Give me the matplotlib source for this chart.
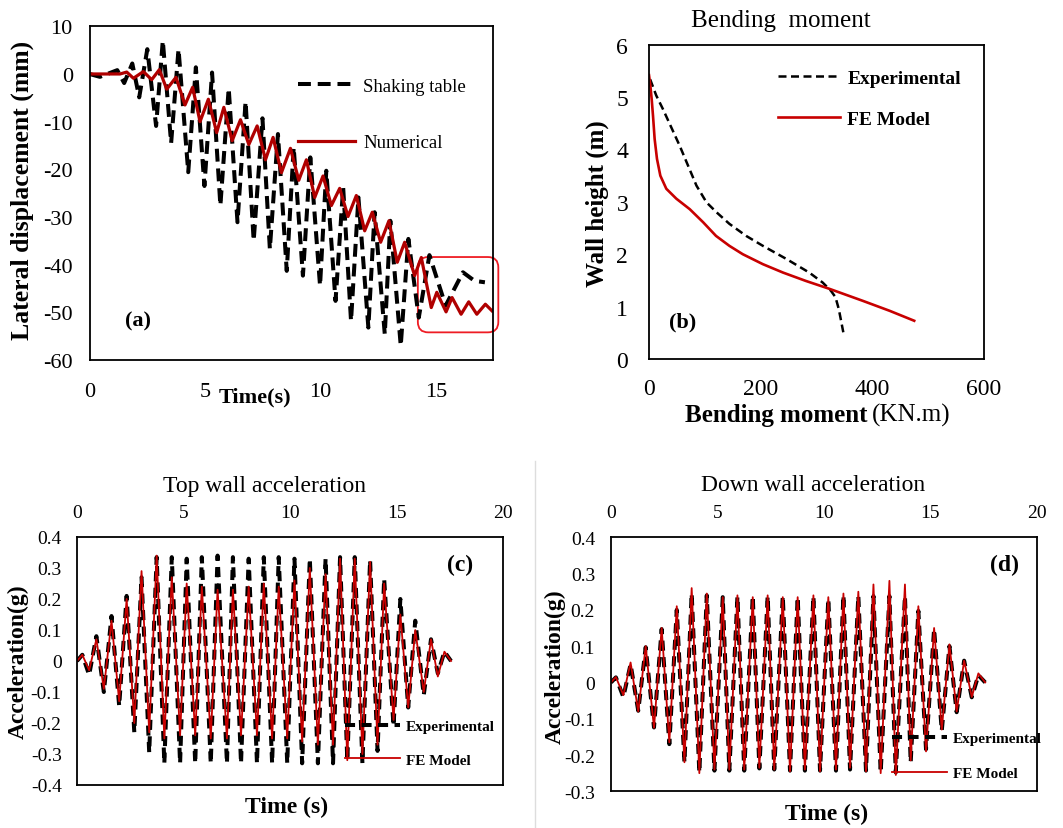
import matplotlib
matplotlib.use("Agg")
import matplotlib.pyplot as plt
from matplotlib.patches import FancyBboxPatch
from matplotlib.lines import Line2D

# ===================== style =====================
plt.rcParams['font.family'] = ['Liberation Serif', 'DejaVu Serif']
plt.rcParams['axes.unicode_minus'] = False

RED_A = '#b00000'
RED = '#c80000'

# ===================== data =====================
# (a) lateral displacement (peaks / troughs)
shake_t = [0, 0.45, 1.2, 1.5, 1.85, 2.15, 2.5, 2.88, 3.17, 3.53,
           3.85, 4.27, 4.6, 4.97, 5.3, 5.66, 6.02, 6.4, 6.75, 7.1,
           7.48, 7.8, 8.15, 8.53, 8.83, 9.23, 9.55, 9.97, 10.24, 10.64,
           10.97, 11.31, 11.63, 12.06, 12.33, 12.77, 13.01, 13.46, 13.79, 14.24,
           14.7, 15.4, 16.15, 16.65, 17.1]
shake_d = [0, -0.6, 0.8, -1.9, 2.2, -4.9, 5.2, -10.9, 7, -14.5,
           5.2, -20.6, 1.4, -23.5, 0.3, -27.6, -3.0, -31.1, -5.8, -35,
           -9.3, -36.7, -12.6, -41.3, -15.4, -42.3, -17.5, -44.4, -20.3, -47.6,
           -23.8, -51.8, -25.9, -53.2, -29, -54.6, -30.8, -57, -34.6, -51.1,
           -38, -48.6, -41.6, -43.4, -43.7]
num_t = [0, 1.32, 1.61, 1.9, 2.33, 2.69, 3.02, 3.34, 3.74, 4.13,
         4.46, 4.78, 5.14, 5.5, 5.81, 6.17, 6.53, 6.89, 7.25, 7.61,
         7.94, 8.3, 8.69, 9.05, 9.38, 9.74, 10.1, 10.46, 10.82, 11.18,
         11.54, 11.9, 12.23, 12.59, 12.95, 13.31, 13.63, 14.06, 14.35, 14.78,
         15.02, 15.42, 15.68, 16.07, 16.4, 16.75, 17.12, 17.41]
num_d = [0, 0, 0.4, -0.9, 0.5, -1.2, 0.9, -3.2, -0.7, -6.5,
         -2.8, -10, -5.3, -12.3, -7, -14, -9.6, -14.8, -10.9, -18,
         -13.3, -20.7, -15.6, -22.3, -18, -25.9, -21.4, -27.6, -24, -29.9,
         -25.5, -32.9, -29, -35.3, -30.8, -39.5, -35.3, -42.3, -38.5, -49,
         -45.8, -49.9, -46.9, -50.4, -47.8, -50.4, -48.3, -49.7]

# (b) bending moment profile
exp_m = [2, 13, 25, 40, 55, 70, 85, 103, 121, 144,
         174, 204, 246, 287, 311, 326, 334, 340, 348]
exp_h = [5.34, 5.03, 4.77, 4.42, 4.07, 3.69, 3.31, 2.99, 2.80, 2.58,
         2.35, 2.16, 1.91, 1.65, 1.46, 1.30, 1.18, 0.95, 0.51]
fe_m = [0, 2.4, 4.8, 7.2, 10.1, 14.3, 20.3, 31, 49, 73,
        97, 120, 144, 168, 204, 240, 281, 323, 383, 431, 475]
fe_h = [5.42, 5.22, 4.96, 4.64, 4.2, 3.82, 3.5, 3.25, 3.06, 2.86,
        2.61, 2.35, 2.16, 2.0, 1.81, 1.65, 1.49, 1.34, 1.11, 0.92, 0.73]

# (c) top wall acceleration
top_t = [0, 0.25, 0.57, 0.91, 1.26, 1.62, 1.98, 2.33, 2.69, 3.03,
         3.39, 3.74, 4.1, 4.45, 4.84, 5.15, 5.55, 5.86, 6.28, 6.6,
         7.04, 7.32, 7.7, 8.06, 8.45, 8.77, 9.16, 9.47, 9.87, 10.21,
         10.57, 10.93, 11.31, 11.67, 12.02, 12.35, 12.69, 13.04, 13.4, 13.76,
         14.11, 14.42, 14.86, 15.18, 15.55, 15.88, 16.28, 16.62, 16.94, 17.25,
         17.56]
top_exp = [0, 0.02, -0.045, 0.08, -0.1, 0.145, -0.145, 0.21, -0.23, 0.27,
           -0.295, 0.335, -0.33, 0.335, -0.33, 0.33, -0.33, 0.335, -0.33, 0.34,
           -0.33, 0.335, -0.33, 0.33, -0.33, 0.335, -0.33, 0.335, -0.33, 0.33,
           -0.33, 0.33, -0.33, 0.33, -0.33, 0.335, -0.32, 0.335, -0.33, 0.325,
           -0.29, 0.265, -0.21, 0.2, -0.15, 0.13, -0.11, 0.07, -0.04, 0.03,
           0]
top_fe = [0, 0.02, -0.03, 0.07, -0.09, 0.13, -0.13, 0.2, -0.2, 0.29,
          -0.23, 0.34, -0.25, 0.27, -0.24, 0.25, -0.24, 0.24, -0.25, 0.23,
          -0.25, 0.23, -0.24, 0.24, -0.24, 0.25, -0.25, 0.24, -0.25, 0.26,
          -0.26, 0.3, -0.27, 0.28, -0.27, 0.33, -0.32, 0.33, -0.3, 0.32,
          -0.27, 0.25, -0.19, 0.15, -0.15, 0.1, -0.1, 0.07, -0.05, 0.03,
          0]

# (d) down wall acceleration
down_t = [0, 0.23, 0.58, 0.92, 1.28, 1.63, 2.02, 2.38, 2.74, 3.09,
          3.45, 3.79, 4.15, 4.5, 4.86, 5.25, 5.56, 5.94, 6.26, 6.66,
          6.97, 7.36, 7.67, 8.07, 8.41, 8.77, 9.11, 9.51, 9.82, 10.21,
          10.57, 10.92, 11.23, 11.62, 11.98, 12.33, 12.67, 13.08, 13.38, 13.81,
          14.08, 14.44, 14.8, 15.18, 15.54, 15.9, 16.24, 16.59, 16.95, 17.26,
          17.58]
down_exp = [0, 0.014, -0.04, 0.05, -0.078, 0.097, -0.124, 0.147, -0.17, 0.2,
            -0.22, 0.245, -0.248, 0.24, -0.243, 0.235, -0.243, 0.237, -0.243, 0.238,
            -0.237, 0.238, -0.24, 0.238, -0.243, 0.235, -0.243, 0.237, -0.243, 0.23,
            -0.243, 0.24, -0.24, 0.238, -0.243, 0.238, -0.248, 0.238, -0.248, 0.238,
            -0.22, 0.197, -0.184, 0.147, -0.133, 0.1, -0.082, 0.06, -0.041, 0.02,
            0]
down_fe = [0, 0.015, -0.035, 0.055, -0.08, 0.1, -0.125, 0.15, -0.165, 0.21,
           -0.22, 0.26, -0.25, 0.245, -0.24, 0.235, -0.24, 0.24, -0.24, 0.235,
           -0.235, 0.24, -0.24, 0.235, -0.245, 0.235, -0.24, 0.24, -0.245, 0.235,
           -0.24, 0.245, -0.235, 0.25, -0.245, 0.27, -0.25, 0.28, -0.255, 0.27,
           -0.215, 0.21, -0.19, 0.15, -0.13, 0.105, -0.08, 0.06, -0.04, 0.025,
           0]

acc_ticks_c = [-0.4, -0.3, -0.2, -0.1, 0, 0.1, 0.2, 0.3, 0.4]
acc_labels_c = ['-0.4', '-0.3', '-0.2', '-0.1', '0', '0.1', '0.2', '0.3', '0.4']
acc_ticks_d = [-0.3, -0.2, -0.1, 0, 0.1, 0.2, 0.3, 0.4]
acc_labels_d = ['-0.3', '-0.2', '-0.1', '0', '0.1', '0.2', '0.3', '0.4']

# ===================== figure =====================
W, H = 1063, 829
fig = plt.figure(figsize=(W / 100, H / 100), dpi=100)


def box(l, t, r, b):
    return [l / W, 1 - b / H, (r - l) / W, (b - t) / H]


def style(ax, size, padx, pady):
    for s in ax.spines.values():
        s.set_linewidth(1.3)
        s.set_color('black')
    ax.tick_params(length=0, labelsize=size)
    ax.tick_params(axis='x', pad=padx)
    ax.tick_params(axis='y', pad=pady)


# ---------- (a) ----------
ax = fig.add_axes(box(89.5, 27.3, 493, 361))
ax.plot(shake_t, shake_d, color='black', lw=2.9, dashes=(3.2, 1.7), label='Shaking table')
ax.plot(num_t, num_d, color=RED_A, lw=2.3, label='Numerical')
ax.set_xlim(0, 17.45)
ax.set_ylim(-60, 10)
ax.set_xticks([0, 5, 10, 15])
ax.set_yticks(range(-60, 11, 10))
style(ax, 16, 16, 12)
ax.text(0.41, -0.108, 'Time(s)', transform=ax.transAxes, ha='center', va='center',
        fontsize=16, fontweight='bold')
ax.text(-0.167, 0.512, 'Lateral displacement (mm)', transform=ax.transAxes, rotation=90,
        ha='center', va='center', fontsize=18.5, fontweight='bold')
ax.text(0.12, 0.117, '(a)', transform=ax.transAxes, ha='center', va='center',
        fontsize=16, fontweight='bold')
ax.legend(loc='upper left', bbox_to_anchor=(0.517, 0.846), frameon=False, fontsize=13.5,
          handlelength=3.04, handletextpad=0.43, labelspacing=2.1, borderpad=0, borderaxespad=0)
ax.add_patch(FancyBboxPatch((14.2, -54.2), 3.48, 15.8,
                            boxstyle='round,pad=0,rounding_size=0.45', mutation_aspect=4.86,
                            ec='#ee1c24', fc='none', lw=1.3, clip_on=False))

# ---------- (b) ----------
ax = fig.add_axes(box(649, 45.7, 984, 360))
ax.plot(exp_m, exp_h, color='black', lw=1.8, dashes=(3.2, 1.8), label='Experimental')
ax.plot(fe_m, fe_h, color=RED, lw=1.9, label='FE Model')
ax.set_xlim(0, 600)
ax.set_ylim(0, 6)
ax.set_xticks([0, 200, 400, 600])
ax.set_yticks(range(0, 7))
style(ax, 17, 14, 15)
ax.text(0.394, 1.078, 'Bending  moment', transform=ax.transAxes, ha='center', va='center',
        fontsize=18)
ax.text(0.651, -0.175, 'Bending moment', transform=ax.transAxes, ha='right', va='center',
        fontsize=18, fontweight='bold')
ax.text(0.666, -0.175, '(KN.m)', transform=ax.transAxes, ha='left', va='center', fontsize=18)
ax.text(-0.155, 0.496, 'Wall height (m)', transform=ax.transAxes, rotation=90,
        ha='center', va='center', fontsize=18, fontweight='bold')
ax.text(0.101, 0.118, '(b)', transform=ax.transAxes, ha='center', va='center',
        fontsize=16, fontweight='bold')
ax.legend(loc='upper left', bbox_to_anchor=(0.385, 0.922), frameon=False,
          prop={'weight': 'bold', 'size': 14},
          handlelength=3.2, handletextpad=0.36, labelspacing=1.2, borderpad=0, borderaxespad=0)

# ---------- (c) ----------
ax = fig.add_axes(box(77, 538, 503, 786))
ax.plot(top_t, top_exp, color='black', lw=2.9, dashes=(2.5, 1.6), label='Experimental')
ax.plot(top_t, top_fe, color=RED, lw=1.3, label='FE Model')
ax.set_xlim(0, 20)
ax.set_ylim(-0.4, 0.4)
ax.xaxis.tick_top()
ax.set_xticks([0, 5, 10, 15, 20])
ax.set_yticks(acc_ticks_c)
ax.set_yticklabels(acc_labels_c)
style(ax, 14, 11.5, 11)
ax.text(0.441, 1.206, 'Top wall acceleration', transform=ax.transAxes, ha='center',
        va='center', fontsize=17)
ax.text(0.493, -0.085, 'Time (s)', transform=ax.transAxes, ha='center', va='center',
        fontsize=17, fontweight='bold')
ax.text(-0.138, 0.5, 'Acceleration(g)', transform=ax.transAxes, rotation=90,
        ha='center', va='center', fontsize=17, fontweight='bold')
ax.text(0.899, 0.891, '(c)', transform=ax.transAxes, ha='center', va='center',
        fontsize=17, fontweight='bold')
ax.legend(loc='upper left', bbox_to_anchor=(0.629, 0.264), frameon=False,
          prop={'weight': 'bold', 'size': 11},
          handlelength=3.6, handletextpad=0.4, labelspacing=1.29, borderpad=0, borderaxespad=0)

# ---------- (d) ----------
ax = fig.add_axes(box(611, 538.3, 1036.7, 792.3))
ax.plot(down_t, down_exp, color='black', lw=2.9, dashes=(2.5, 1.6), label='Experimental')
ax.plot(down_t, down_fe, color=RED, lw=1.3, label='FE Model')
ax.set_xlim(0, 20)
ax.set_ylim(-0.3, 0.4)
ax.xaxis.tick_top()
ax.set_xticks([0, 5, 10, 15, 20])
ax.set_yticks(acc_ticks_d)
ax.set_yticklabels(acc_labels_d)
style(ax, 14, 11.5, 11.5)
ax.text(0.474, 1.206, 'Down wall acceleration', transform=ax.transAxes, ha='center',
        va='center', fontsize=17)
ax.text(0.507, -0.089, 'Time (s)', transform=ax.transAxes, ha='center', va='center',
        fontsize=17, fontweight='bold')
ax.text(-0.131, 0.494, 'Acceleration(g)', transform=ax.transAxes, rotation=90,
        ha='center', va='center', fontsize=17, fontweight='bold')
ax.text(0.925, 0.895, '(d)', transform=ax.transAxes, ha='center', va='center',
        fontsize=17, fontweight='bold')
ax.legend(loc='upper left', bbox_to_anchor=(0.66, 0.236), frameon=False,
          prop={'weight': 'bold', 'size': 11},
          handlelength=3.6, handletextpad=0.4, labelspacing=1.42, borderpad=0, borderaxespad=0)

# faint separator between the lower panels
fig.add_artist(Line2D([535 / W, 535 / W], [0, (H - 462) / H], transform=fig.transFigure,
                      color='#dddddd', lw=1))

fig.savefig('out.png', dpi=100)
